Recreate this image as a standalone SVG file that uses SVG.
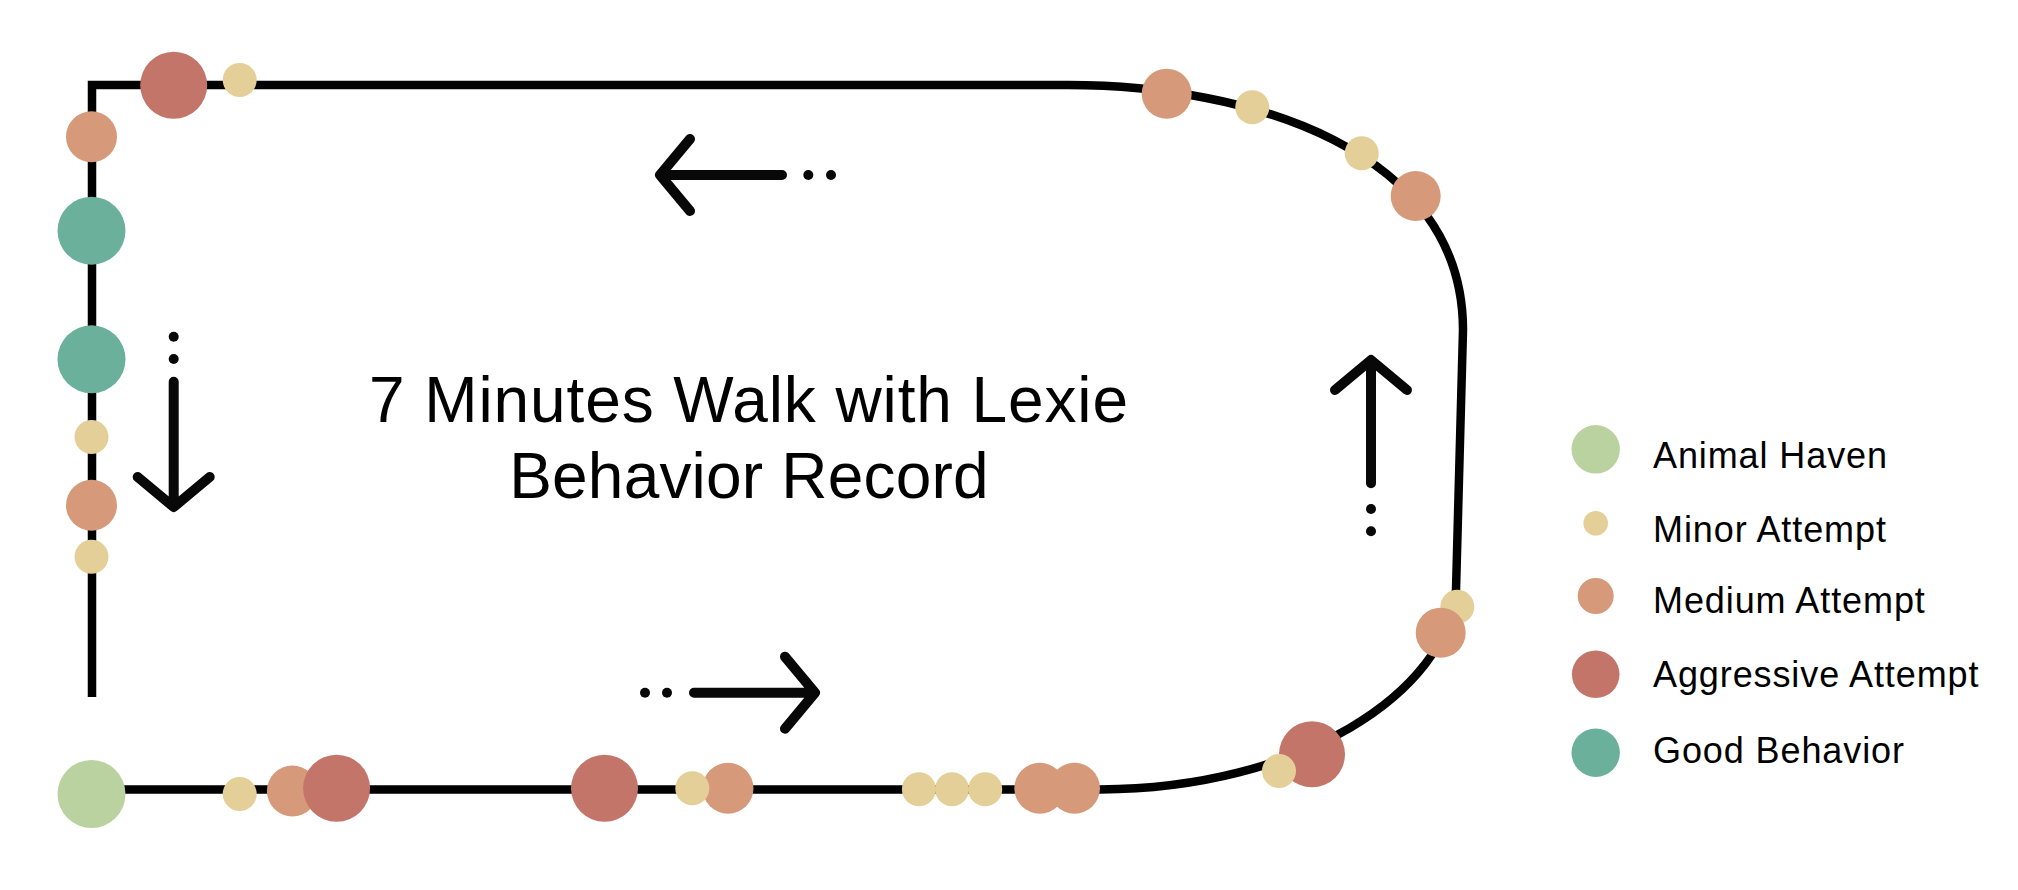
<svg xmlns="http://www.w3.org/2000/svg" width="2018" height="890" viewBox="0 0 2018 890">
<style>
.path{fill:none;stroke:#000;stroke-width:8.5;stroke-linejoin:miter;stroke-linecap:butt}
.arr{fill:none;stroke:#080808;stroke-width:10;stroke-linecap:round;stroke-linejoin:round}
.dot{fill:#080808}
.haven{fill:#bad2a0}
.minor{fill:#e5cf98}
.medium{fill:#d69a7a}
.aggr{fill:#c4756a}
.good{fill:#6bb09b}
.title{font-family:"Liberation Sans",Arial,sans-serif;font-size:64px;fill:#000;text-anchor:middle;letter-spacing:0.2px}
.t1{letter-spacing:0.9px}
.leg{font-family:"Liberation Sans",Arial,sans-serif;font-size:36px;fill:#000;letter-spacing:0.9px}
</style>
<rect width="2018" height="890" fill="#fff"/>
<g id="connectors">
<path class="path" d="M 92 697 L 92 85 L 1068 85 C 1250 85 1463 150 1463 330 L 1456 590 C 1448 692 1300 789 1100 789.5 L 92 789.5"/>
<g id="arrow-left">
<path class="arr" d="M 782 175 L 660 175 M 690 139 L 660 175 L 690 211"/>
<circle class="dot" cx="808.3" cy="175" r="5"/>
<circle class="dot" cx="831" cy="175" r="5"/>
</g>
<g id="arrow-right">
<path class="arr" d="M 694 692.7 L 815 692.7 M 785 656.7 L 815 692.7 L 785 728.7"/>
<circle class="dot" cx="645" cy="692.7" r="5"/>
<circle class="dot" cx="667" cy="692.7" r="5"/>
</g>
<g id="arrow-down">
<path class="arr" d="M 173.7 381.7 L 173.7 507 M 137.7 477 L 173.7 507 L 209.7 477"/>
<circle class="dot" cx="173.7" cy="336.7" r="5"/>
<circle class="dot" cx="173.7" cy="359" r="5"/>
</g>
<g id="arrow-up">
<path class="arr" d="M 1371 483.3 L 1371 360 M 1335 390 L 1371 360 L 1407 390"/>
<circle class="dot" cx="1371" cy="509" r="5"/>
<circle class="dot" cx="1371" cy="531.3" r="5"/>
</g>
</g>
<g id="points">
<g id="p1"><circle class="aggr" cx="173.7" cy="85.3" r="33.5"/></g>
<g id="p2"><circle class="minor" cx="239.7" cy="80" r="17"/></g>
<g id="p3"><circle class="medium" cx="91.5" cy="136.7" r="25.5"/></g>
<g id="p4"><circle class="good" cx="91.5" cy="230.7" r="34"/></g>
<g id="p5"><circle class="good" cx="91.5" cy="359.3" r="34"/></g>
<g id="p6"><circle class="minor" cx="91.5" cy="437" r="17"/></g>
<g id="p7"><circle class="medium" cx="91.5" cy="505.3" r="25.5"/></g>
<g id="p8"><circle class="minor" cx="91.5" cy="556.7" r="17"/></g>
<g id="p9"><circle class="haven" cx="91.5" cy="794" r="34"/></g>
<g id="p10"><circle class="minor" cx="239.7" cy="794" r="17"/></g>
<g id="p11"><circle class="medium" cx="292.4" cy="791" r="25.5"/></g>
<g id="p12"><circle class="aggr" cx="336.6" cy="788.3" r="33.5"/></g>
<g id="p13"><circle class="aggr" cx="604.5" cy="788.3" r="33.5"/></g>
<g id="p15"><circle class="medium" cx="728" cy="788.3" r="25.5"/></g>
<g id="p14"><circle class="minor" cx="692.3" cy="788.3" r="17"/></g>
<g id="p16"><circle class="minor" cx="918.9" cy="789.3" r="17"/></g>
<g id="p17"><circle class="minor" cx="952" cy="789.3" r="17"/></g>
<g id="p18"><circle class="minor" cx="985.2" cy="789.3" r="17"/></g>
<g id="p19"><circle class="medium" cx="1039.8" cy="788.3" r="25.5"/></g>
<g id="p20"><circle class="medium" cx="1074.5" cy="788.3" r="25.5"/></g>
<g id="p21"><circle class="aggr" cx="1312" cy="754.3" r="33"/></g>
<g id="p22"><circle class="minor" cx="1279" cy="771" r="17"/></g>
<g id="p23"><circle class="minor" cx="1457.3" cy="606.7" r="17"/></g>
<g id="p24"><circle class="medium" cx="1440.7" cy="632.7" r="25"/></g>
<g id="p25"><circle class="medium" cx="1166.7" cy="93.7" r="25"/></g>
<g id="p26"><circle class="minor" cx="1252.3" cy="107.3" r="17"/></g>
<g id="p27"><circle class="minor" cx="1361.7" cy="153.3" r="17"/></g>
<g id="p28"><circle class="medium" cx="1415.7" cy="196" r="25"/></g>
</g>
<g id="title">
<text class="title t1" x="749" y="421.7">7 Minutes Walk with Lexie</text>
<text class="title" x="749" y="498.3">Behavior Record</text>
</g>
<g id="legend">
<g id="leg-haven"><circle class="haven" cx="1595.7" cy="449.3" r="24.2"/><text class="leg" x="1653" y="468.3">Animal Haven</text></g>
<g id="leg-minor"><circle class="minor" cx="1595.7" cy="523.3" r="12.3"/><text class="leg" x="1653" y="541.7">Minor Attempt</text></g>
<g id="leg-medium"><circle class="medium" cx="1595.7" cy="596" r="18"/><text class="leg" x="1653" y="613.3">Medium Attempt</text></g>
<g id="leg-aggr"><circle class="aggr" cx="1595.7" cy="674.3" r="23.8"/><text class="leg" x="1653" y="686.7">Aggressive Attempt</text></g>
<g id="leg-good"><circle class="good" cx="1595.7" cy="752.7" r="24.2"/><text class="leg" x="1653" y="763.3">Good Behavior</text></g>
</g>
</svg>
